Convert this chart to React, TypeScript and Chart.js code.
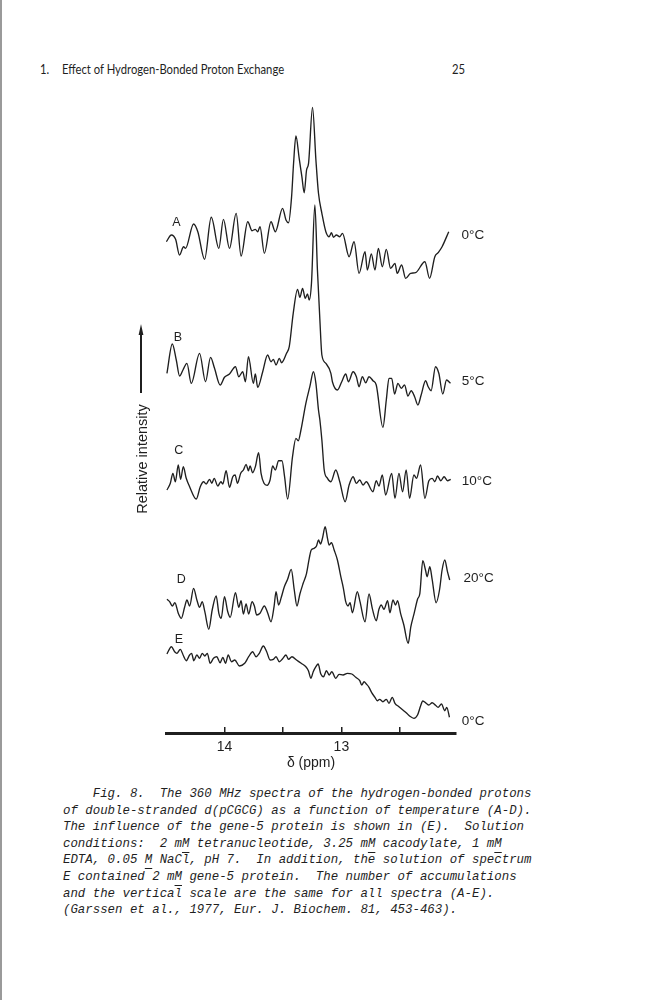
import React, { useEffect, useRef } from 'react';
import { Chart, registerables } from 'chart.js';

Chart.register(...registerables);

const INK = '#1f1f1f';

// x-axis (chemical shift, ppm)
const X_MIN = 12.02;
const X_MAX = 14.5;
const TICK_VALUES = [14, 13.5, 13, 12.5];
const TICK_LABELS = [14, 13];

// vertical offsets of the stacked spectra (same vertical scale for all)
const OFFSETS = [488, 363, 253, 123, 73];
const Y_MAX = 643;

// Spectrum A, 0 °C
const A_PPM = [14.497,14.454,14.418,14.384,14.35,14.333,14.264,14.228,14.17,14.113,14.048,14.009,13.957,13.9,13.858,13.801,13.764,13.736,13.716,13.696,13.659,13.602,13.565,13.503,13.474,13.452,13.426,13.409,13.389,13.361,13.338,13.318,13.298,13.281,13.247,13.218,13.196,13.167,13.133,13.105,13.085,13.068,13.043,13.014,12.991,12.934,12.892,12.849,12.798,12.778,12.744,12.713,12.684,12.65,12.616,12.579,12.542,12.523,12.485,12.451,12.408,12.366,12.286,12.246,12.201,12.173,12.139,12.082];
const A_INT = [3.3,10,5.7,-10,-1.7,-3.3,21,13.3,-14.3,27.7,-3.3,25.7,-3.3,31.7,-11,23.3,14.3,15.7,13.3,18.3,-8.3,23.3,13.3,36.7,25,22.3,48.3,81.7,109,86.7,68.3,52.3,75,81.7,137.7,85,51.7,31.7,13.3,8.3,12.3,7.7,10,8.3,11.7,-11.7,3.3,-28.3,-6.7,-25,-9,-25,-3.3,-21.7,-4.3,-23.3,-18.3,-28.3,-20,-33.3,-28.3,-27.7,-16.7,-33.3,-11.7,-7.7,-1.7,13.3];

// Spectrum B, 5 °C
const B_PPM = [14.492,14.446,14.412,14.384,14.355,14.321,14.284,14.213,14.162,14.119,14.085,14.037,14.0,13.957,13.906,13.878,13.844,13.821,13.795,13.753,13.736,13.716,13.673,13.631,13.602,13.582,13.559,13.531,13.512,13.469,13.446,13.412,13.375,13.355,13.332,13.309,13.29,13.275,13.256,13.227,13.205,13.184,13.167,13.133,13.09,13.077,13.034,12.997,12.963,12.94,12.9,12.872,12.849,12.821,12.792,12.764,12.73,12.702,12.645,12.616,12.593,12.57,12.545,12.517,12.488,12.46,12.431,12.403,12.374,12.346,12.318,12.28,12.258,12.233,12.195,12.167,12.133,12.101,12.067];
const B_INT = [-3.3,26,10,-6,0,6.7,-13.3,16.7,-11.7,12.7,1.7,-15,-7.3,-4,3.3,-6.7,-1.7,-11.7,13.3,-13.3,-4,-17.3,-1.7,15,8.3,10.7,5,11.7,7.3,16.7,23.3,56.7,80.7,72.7,81.7,71.7,76,70,86.7,165,100,50,15,6.7,-3.3,-11.7,-20,-11.7,-4,-11.7,-1.7,-6.7,-16.7,-6.7,-12.7,-6.7,-10.7,-15,-57.3,-30,-8.3,-8.3,-24,-13.3,-18.3,-15,-26,-20.7,-26.7,-35,-25,-10.7,-16.7,-20.7,3.3,-3.3,-24,-10,-13.3];

// Spectrum C, 10 °C
const C_PPM = [14.492,14.463,14.441,14.42,14.395,14.375,14.352,14.327,14.298,14.241,14.207,14.179,14.156,14.128,14.108,14.088,14.057,14.031,14.014,13.986,13.957,13.929,13.909,13.889,13.861,13.838,13.815,13.795,13.781,13.759,13.736,13.708,13.687,13.662,13.636,13.61,13.588,13.565,13.537,13.508,13.486,13.46,13.418,13.389,13.369,13.346,13.304,13.27,13.239,13.218,13.196,13.184,13.167,13.147,13.119,13.09,13.048,13.014,12.968,12.934,12.9,12.872,12.843,12.815,12.787,12.73,12.702,12.679,12.65,12.622,12.57,12.542,12.508,12.477,12.446,12.417,12.38,12.357,12.323,12.286,12.252,12.224,12.201,12.178,12.15,12.122,12.093,12.065];
const C_INT = [-10,-3.3,6.7,-1.7,15,0.7,13.3,1.7,-6.7,-19,-6.7,-1.7,-4,0.7,-3.3,1.7,-6,-1.7,-4,9.3,-7.3,3.3,5,-3.3,6.7,10,15.7,9.3,14,7.3,13.3,27.3,6.7,-3.3,-5.3,0,14,10,19.3,19.3,3.3,-19,23.3,41.7,39.3,50,76.7,93.3,108.3,96.7,70,60,40,10,1.7,-1.7,10,-1.7,-21.7,-5,3.3,-3.3,0,-5,-1.7,-11.7,-0.7,-6,5,-15,6.7,-18.3,6.7,-11.7,10,-18.3,5,1.7,15,-18.3,-0.7,1.7,-1.7,4,-0.7,3.3,-0.7,0.7];

// Spectrum D, 20 °C
const D_PPM = [14.492,14.469,14.446,14.424,14.395,14.369,14.341,14.321,14.298,14.264,14.236,14.213,14.19,14.168,14.134,14.105,14.071,14.048,14.028,14.0,13.972,13.951,13.906,13.878,13.858,13.838,13.815,13.793,13.764,13.744,13.725,13.696,13.659,13.631,13.602,13.576,13.559,13.537,13.514,13.488,13.46,13.429,13.403,13.38,13.355,13.327,13.298,13.275,13.258,13.233,13.213,13.196,13.179,13.162,13.139,13.119,13.105,13.085,13.062,13.034,13.005,12.983,12.963,12.943,12.926,12.906,12.864,12.841,12.798,12.764,12.736,12.702,12.679,12.659,12.636,12.605,12.585,12.559,12.537,12.52,12.494,12.466,12.429,12.406,12.378,12.349,12.329,12.304,12.281,12.267,12.244,12.224,12.19,12.161,12.139,12.116,12.093,12.074];
const D_INT = [10.7,8.3,4,7.3,-3.3,-8.3,2.7,10,4,21.7,10,2.7,8.3,-1.7,-19.3,0,14,-3.3,-8.3,13.3,-1.7,-7.3,17.3,2.7,9.3,-4,6,-4,8.3,4,-5,-3.3,4,-2.7,-11.7,3.3,18.3,5,12.7,23.3,30.7,40.7,20,4,16,26.7,36.7,51.7,60,61.7,64,70,66,71.7,83.3,71.7,65,67.3,60,50,33.3,21.7,8.3,4,7.3,-2.7,18.3,8.3,-11.7,16,1.7,-10.7,0.7,5,0.7,9.3,-2.7,10,5,9.3,-3.3,-15,-33.3,-16.7,-3.3,10.7,16.7,49.3,40,33.3,43.3,30.7,7.3,20,40,50,38.3,30];

// Spectrum E, 0 °C with gene-5 protein
const E_PPM = [14.492,14.454,14.426,14.407,14.378,14.35,14.327,14.298,14.281,14.262,14.236,14.213,14.19,14.168,14.147,14.122,14.094,14.066,14.037,14.014,13.991,13.968,13.94,13.912,13.872,13.827,13.793,13.759,13.73,13.702,13.668,13.639,13.61,13.582,13.559,13.531,13.503,13.474,13.452,13.423,13.384,13.344,13.304,13.282,13.261,13.241,13.218,13.199,13.176,13.153,13.128,13.105,13.082,13.048,13.02,12.986,12.949,12.911,12.877,12.843,12.826,12.806,12.787,12.764,12.741,12.713,12.693,12.673,12.645,12.616,12.593,12.565,12.542,12.508,12.474,12.446,12.417,12.38,12.349,12.323,12.304,12.275,12.252,12.224,12.195,12.173,12.144,12.116,12.099,12.076];
const E_INT = [6,13.3,8.3,6.7,10.7,4,-0.7,5,6.7,-0.7,5,1.7,6.7,4,6.7,-3.3,1.7,3.3,-2.7,2.7,-3.3,5,-1.7,0,-6,-3.3,3.3,8.3,3.3,6.7,14,8.3,0,0.7,3.3,-1.7,1.3,5,0.7,3.3,0,-3.3,-6.7,-10.7,-18.3,-11.7,-6.7,-4,-14,-16.7,-10.7,-15,-11.7,-18.3,-14.3,-15,-13.3,-14,-17.3,-20.7,-25,-21.7,-24,-27.3,-32.7,-37.3,-40.7,-39.3,-41.7,-39.3,-43.3,-37.3,-43.3,-46.7,-50,-52.7,-56,-58.3,-55,-46,-41,-43.3,-45,-42.7,-45.3,-47.3,-44,-50.7,-47.3,-57.3];

const SPECTRA_PPM = [A_PPM, B_PPM, C_PPM, D_PPM, E_PPM];
const SPECTRA_INT = [A_INT, B_INT, C_INT, D_INT, E_INT];

// annotations
const LETTERS = ['A', 'B', 'C', 'D', 'E'];
const LETTER_PPM = [14.41, 14.398, 14.39, 14.369, 14.39];
const LETTER_Y = [22, 32, 29, 30, 20];
const TEMPS = ['0°C', '5°C', '10°C', '20°C', '0°C'];
const TEMP_PPM = [11.972, 11.97, 11.97, 11.955, 11.97];
const TEMP_Y = [9.5, -11.7, -1.7, 32, -61.7];

const CAPTION_LINES = [
  '    Fig. 8.  The 360 MHz spectra of the hydrogen-bonded protons',
  'of double-stranded d(pCGCG) as a function of temperature (A-D).',
  'The influence of the gene-5 protein is shown in (E).  Solution',
  'conditions:  2 m{M} tetranucleotide, 3.25 m{M} cacodylate, 1 m{M}',
  'EDTA, 0.05 {M} NaCl, pH 7.  In addition, the solution of spectrum',
  'E contained 2 m{M} gene-5 protein.  The number of accumulations',
  'and the vertical scale are the same for all spectra (A-E).',
  '(Garssen et al., 1977, Eur. J. Biochem. 81, 453-463).',
];

const annotate = {
  id: 'annotate',
  afterDatasetsDraw(chart: any) {
    const { ctx } = chart;
    const x = chart.scales.x;
    const y = chart.scales.y;
    ctx.save();
    ctx.fillStyle = INK;
    ctx.textBaseline = 'middle';
    ctx.font = '12.5px "Liberation Sans", Arial, sans-serif';
    ctx.textAlign = 'center';
    LETTERS.forEach((t, i) => {
      ctx.fillText(t, x.getPixelForValue(LETTER_PPM[i]), y.getPixelForValue(OFFSETS[i] + LETTER_Y[i]));
    });
    ctx.font = '13.5px "Liberation Sans", Arial, sans-serif';
    ctx.textAlign = 'left';
    TEMPS.forEach((t, i) => {
      ctx.fillText(t, x.getPixelForValue(TEMP_PPM[i]), y.getPixelForValue(OFFSETS[i] + TEMP_Y[i]));
    });
    ctx.restore();
  },
};

function CaptionLine({ text }: { text: string }) {
  const parts = text.split(/(\{M\})/);
  return (
    <div>
      {parts.map((p, i) =>
        p === '{M}' ? (
          <span key={i} style={{ textDecoration: 'underline', textUnderlineOffset: '5px' }}>M</span>
        ) : (
          <span key={i}>{p}</span>
        )
      )}
    </div>
  );
}

const headerStyle: React.CSSProperties = {
  position: 'absolute',
  top: 61,
  fontFamily: 'Lato, "Open Sans", sans-serif',
  fontSize: 12.5,
  whiteSpace: 'nowrap',
  lineHeight: '18px',
  transform: 'scaleX(0.9)',
  transformOrigin: 'left center',
};

export default function App() {
  const ref = useRef<HTMLCanvasElement>(null);

  useEffect(() => {
    if (!ref.current) return;
    const datasets = SPECTRA_PPM.map((ppm, i) => {
      const ints = SPECTRA_INT[i];
      const n = Math.min(ppm.length, ints.length);
      const data = [] as { x: number; y: number }[];
      for (let j = 0; j < n; j++) data.push({ x: ppm[j], y: ints[j] + OFFSETS[i] });
      return {
        label: LETTERS[i],
        data,
        borderColor: INK,
        borderWidth: 1.35,
        pointRadius: 0,
        fill: false,
        cubicInterpolationMode: 'monotone' as const,
      };
    });
    const chart = new Chart(ref.current, {
      type: 'line',
      data: { datasets },
      options: {
        animation: false,
        responsive: false,
        events: [],
        layout: { padding: { left: 46, right: 44, top: 10, bottom: 2 } },
        plugins: { legend: { display: false }, tooltip: { enabled: false } },
        scales: {
          x: {
            type: 'linear',
            reverse: true,
            min: X_MIN,
            max: X_MAX,
            afterBuildTicks: (axis: any) => {
              axis.ticks = TICK_VALUES.map((v) => ({ value: v }));
            },
            afterFit: (axis: any) => {
              axis.height = 45;
            },
            border: { display: true, color: INK, width: 3 },
            grid: { drawOnChartArea: false, drawTicks: true, tickLength: -6, color: INK, lineWidth: 1.5 },
            ticks: {
              padding: 12,
              color: INK,
              maxRotation: 0,
              autoSkip: false,
              font: { family: '"Liberation Sans", Arial, sans-serif', size: 14 },
              callback: (v: any) => (TICK_LABELS.some((t) => Math.abs(t - Number(v)) < 1e-6) ? String(v) : ''),
            },
            title: {
              display: true,
              text: 'δ (ppm)',
              color: INK,
              font: { family: '"Liberation Sans", Arial, sans-serif', size: 14 },
              padding: { top: 0, bottom: 6 },
            },
          },
          y: { display: false, min: 0, max: Y_MAX },
        },
      },
      plugins: [annotate],
    });
    return () => chart.destroy();
  }, []);

  return (
    <div style={{ position: 'absolute', left: 0, top: 0, width: 658, height: 1000, background: '#fff', overflow: 'hidden', color: INK }}>
      <div style={{ position: 'absolute', left: 0, top: 0, width: 1.5, height: 1000, background: '#9a9a9a' }} />
      <div style={{ ...headerStyle, left: 40 }}>1.</div>
      <div style={{ ...headerStyle, left: 62 }}>Effect of Hydrogen-Bonded Proton Exchange</div>
      <div style={{ ...headerStyle, left: 452 }}>25</div>

      <canvas ref={ref} width={380} height={700} style={{ position: 'absolute', left: 120, top: 80, width: 380, height: 700 }} />

      <svg style={{ position: 'absolute', left: 136, top: 322 }} width={10} height={74}>
        <line x1={5} y1={8} x2={5} y2={71} stroke={INK} strokeWidth={2} />
        <polygon points="5,2 2.6,13 7.4,13" fill={INK} />
      </svg>
      <div
        style={{
          position: 'absolute',
          left: 142,
          top: 459,
          transform: 'translate(-50%, -50%) rotate(-90deg)',
          fontFamily: '"Liberation Sans", Arial, sans-serif',
          fontSize: 14.5,
          whiteSpace: 'nowrap',
          lineHeight: '16px',
        }}
      >
        Relative intensity
      </div>

      <div
        style={{
          position: 'absolute',
          left: 63,
          top: 786,
          fontFamily: '"Liberation Mono", "DejaVu Sans Mono", monospace',
          fontStyle: 'italic',
          fontSize: 12.4,
          lineHeight: '16.6px',
          whiteSpace: 'pre',
        }}
      >
        {CAPTION_LINES.map((l, i) => (
          <CaptionLine key={i} text={l} />
        ))}
      </div>
    </div>
  );
}
